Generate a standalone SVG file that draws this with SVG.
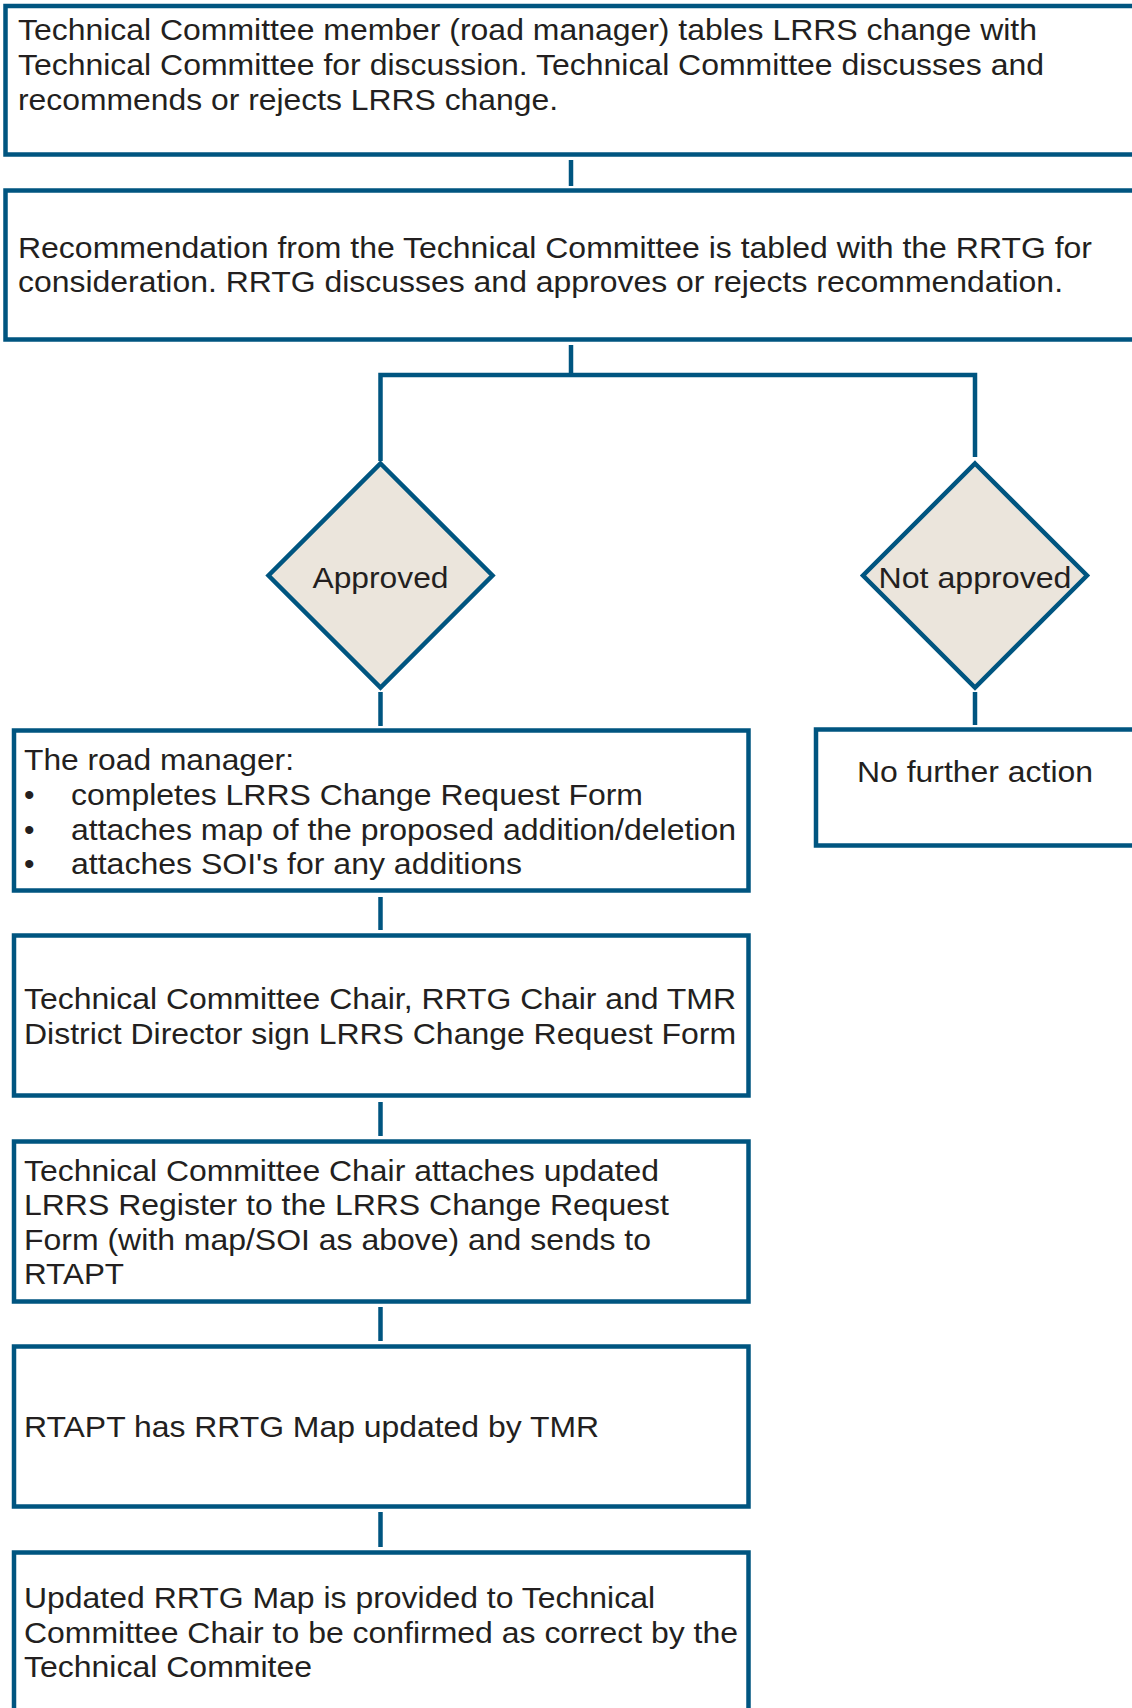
<svg xmlns="http://www.w3.org/2000/svg" width="1132" height="1708" viewBox="0 0 1132 1708">
<style>
.box{fill:#ffffff;stroke:#005580;stroke-width:4.5}
.dia{fill:#ebe5dc;stroke:#005580;stroke-width:4.5}
.con{fill:none;stroke:#005580;stroke-width:4.5}
.t{font-family:"Liberation Sans",Arial,sans-serif;font-size:30px;fill:#231f20}
.c{text-anchor:middle}
</style>
<rect width="1132" height="1708" fill="#ffffff"/>
<g id="connectors">
<line class="con" x1="571" y1="160" x2="571" y2="186"/>
<polyline class="con" points="571,345 571,375"/>
<polyline class="con" points="380.5,461 380.5,375 975,375 975,457"/>
<line class="con" x1="380.5" y1="692" x2="380.5" y2="726"/>
<line class="con" x1="975" y1="692" x2="975" y2="725"/>
<line class="con" x1="380.5" y1="897" x2="380.5" y2="930"/>
<line class="con" x1="380.5" y1="1102" x2="380.5" y2="1136"/>
<line class="con" x1="380.5" y1="1307" x2="380.5" y2="1341"/>
<line class="con" x1="380.5" y1="1512" x2="380.5" y2="1547"/>
</g>
<g id="n1">
<rect class="box" x="5.5" y="6" width="1140" height="148.5"/>
<text class="t" x="18" y="40.3" textLength="1019" lengthAdjust="spacingAndGlyphs">Technical Committee member (road manager) tables LRRS change with</text>
<text class="t" x="18" y="75" textLength="1026" lengthAdjust="spacingAndGlyphs">Technical Committee for discussion. Technical Committee discusses and</text>
<text class="t" x="18" y="109.8" textLength="540" lengthAdjust="spacingAndGlyphs">recommends or rejects LRRS change.</text>
</g>
<g id="n2">
<rect class="box" x="5.5" y="190.5" width="1140" height="149"/>
<text class="t" x="18" y="257.5" textLength="1074" lengthAdjust="spacingAndGlyphs">Recommendation from the Technical Committee is tabled with the RRTG for</text>
<text class="t" x="18" y="292" textLength="1045" lengthAdjust="spacingAndGlyphs">consideration. RRTG discusses and approves or rejects recommendation.</text>
</g>
<g id="approved">
<polygon class="dia" points="380.5,463.5 492.5,575.5 380.5,687.5 268.5,575.5"/>
<text class="t c" x="380.5" y="588" textLength="136" lengthAdjust="spacingAndGlyphs">Approved</text>
</g>
<g id="not-approved">
<polygon class="dia" points="975,463.5 1087,575.5 975,687.5 863,575.5"/>
<text class="t c" x="975" y="588" textLength="193" lengthAdjust="spacingAndGlyphs">Not approved</text>
</g>
<g id="n3">
<rect class="box" x="14" y="730.5" width="734.5" height="160"/>
<text class="t" x="24" y="770.2" textLength="270" lengthAdjust="spacingAndGlyphs">The road manager:</text>
<text class="t" x="24" y="805">•</text>
<text class="t" x="71" y="805" textLength="572" lengthAdjust="spacingAndGlyphs">completes LRRS Change Request Form</text>
<text class="t" x="24" y="839.5">•</text>
<text class="t" x="71" y="839.5" textLength="665" lengthAdjust="spacingAndGlyphs">attaches map of the proposed addition/deletion</text>
<text class="t" x="24" y="874">•</text>
<text class="t" x="71" y="874" textLength="451" lengthAdjust="spacingAndGlyphs">attaches SOI's for any additions</text>
</g>
<g id="no-action">
<rect class="box" x="816" y="729.5" width="340" height="116"/>
<text class="t c" x="975" y="781.7" textLength="236" lengthAdjust="spacingAndGlyphs">No further action</text>
</g>
<g id="n4">
<rect class="box" x="14" y="935.5" width="734.5" height="160"/>
<text class="t" x="24" y="1009" textLength="712" lengthAdjust="spacingAndGlyphs">Technical Committee Chair, RRTG Chair and TMR</text>
<text class="t" x="24" y="1044" textLength="712" lengthAdjust="spacingAndGlyphs">District Director sign LRRS Change Request Form</text>
</g>
<g id="n5">
<rect class="box" x="14" y="1141.5" width="734.5" height="160"/>
<text class="t" x="24" y="1180.7" textLength="635" lengthAdjust="spacingAndGlyphs">Technical Committee Chair attaches updated</text>
<text class="t" x="24" y="1215" textLength="645" lengthAdjust="spacingAndGlyphs">LRRS Register to the LRRS Change Request</text>
<text class="t" x="24" y="1249.5" textLength="627" lengthAdjust="spacingAndGlyphs">Form (with map/SOI as above) and sends to</text>
<text class="t" x="24" y="1284" textLength="100" lengthAdjust="spacingAndGlyphs">RTAPT</text>
</g>
<g id="n6">
<rect class="box" x="14" y="1346.5" width="734.5" height="160"/>
<text class="t" x="24" y="1437" textLength="575" lengthAdjust="spacingAndGlyphs">RTAPT has RRTG Map updated by TMR</text>
</g>
<g id="n7">
<rect class="box" x="14" y="1552.5" width="734.5" height="170"/>
<text class="t" x="24" y="1607.5" textLength="631" lengthAdjust="spacingAndGlyphs">Updated RRTG Map is provided to Technical</text>
<text class="t" x="24" y="1642.5" textLength="714" lengthAdjust="spacingAndGlyphs">Committee Chair to be confirmed as correct by the</text>
<text class="t" x="24" y="1677.2" textLength="288" lengthAdjust="spacingAndGlyphs">Technical Commitee</text>
</g>
</svg>
